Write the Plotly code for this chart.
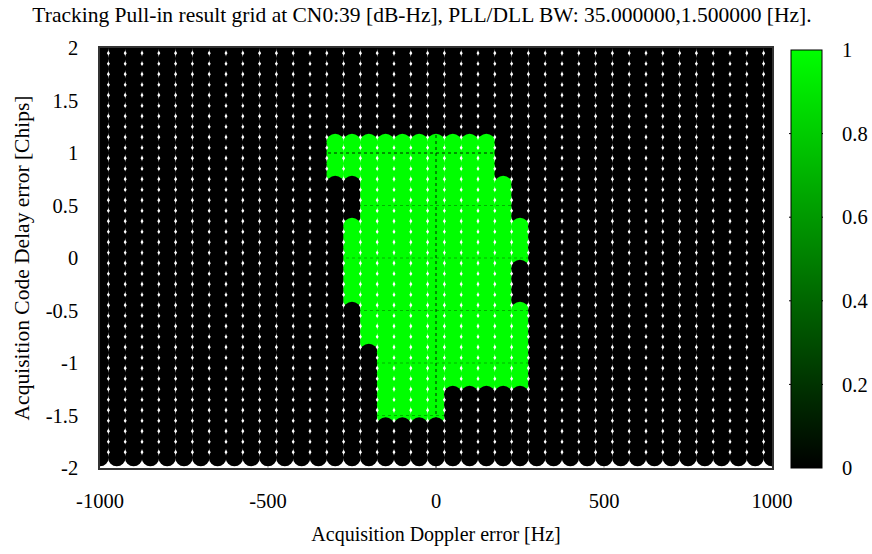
import plotly.graph_objects as go

# Search grid: Doppler columns and code-delay rows
doppler_hz = list(range(-1000, 1001, 50))
code_delay_chips = [round(2.0 - 0.1 * i, 1) for i in range(40)]  # 2.0 ... -1.9

# Grid cells where the tracking loops pulled in (value 1); all others are 0.
# Each entry: Doppler column and the inclusive code-delay span that locked.
lock_doppler_hz = [-300, -250, -250, -200, -150, -100, -50, 0, 50, 100, 150, 200, 250, 250]
lock_delay_lo = [0.8, 0.8, -0.4, -0.8, -1.5, -1.5, -1.5, -1.5, -1.2, -1.2, -1.2, -1.2, -1.2, 0.0]
lock_delay_hi = [1.1, 1.1, 0.3, 1.1, 1.1, 1.1, 1.1, 1.1, 1.1, 1.1, 1.1, 0.7, -0.5, 0.3]

x_ticks = [-1000, -500, 0, 500, 1000]
x_tick_text = ["-1000", "-500", "0", "500", "1000"]
y_ticks = [2, 1.5, 1, 0.5, 0, -0.5, -1, -1.5, -2]
y_tick_text = ["2", "1.5", "1", "0.5", "0", "-0.5", "-1", "-1.5", "-2"]
cb_ticks = [0, 0.2, 0.4, 0.6, 0.8, 1]
cb_tick_text = ["0", "0.2", "0.4", "0.6", "0.8", "1"]


def locked(f, d):
    for lf, lo, hi in zip(lock_doppler_hz, lock_delay_lo, lock_delay_hi):
        if lf == f and lo - 1e-9 <= d <= hi + 1e-9:
            return 1
    return 0


# rows are drawn top to bottom so lower dots overlap the row above
xs, ys, vals = [], [], []
for d in code_delay_chips:
    for f in doppler_hz:
        xs.append(f)
        ys.append(d)
        vals.append(locked(f, d))

FONT = "Liberation Serif"
PLOT_L, PLOT_R, PLOT_T, PLOT_B = 100, 772, 48, 468
PW, PH = PLOT_R - PLOT_L, PLOT_B - PLOT_T
CB_L, CB_R, CB_T, CB_B = 789, 823, 50, 468

fig = go.Figure()
fig.add_trace(go.Scatter(
    x=xs, y=ys, mode="markers",
    marker=dict(
        symbol="circle", size=17.5, color=vals,
        cmin=0, cmax=1,
        colorscale=[[0, "#000000"], [1, "#00ff00"]],
        line=dict(width=0),
        colorbar=dict(
            x=(CB_L + 2 - PLOT_L) / PW, xanchor="left", xpad=0,
            y=(PLOT_B - (CB_T + CB_B) / 2) / PH, yanchor="middle", ypad=0,
            len=(CB_B - CB_T) / PH, lenmode="fraction",
            thickness=CB_R - CB_L - 3, thicknessmode="pixels",
            outlinecolor="#000000", outlinewidth=1,
            tickvals=cb_ticks, ticktext=cb_tick_text,
            ticks="outside", ticklen=16, tickcolor="rgba(0,0,0,0)",
            tickfont=dict(family=FONT, size=20.5, color="#000000"),
        ),
    ),
    hoverinfo="skip", showlegend=False,
))

# dotted grid at the tick positions, drawn over the dots
def grid_trace(vx, hy, color):
    gx, gy = [], []
    for t in vx:
        gx += [t, t, None]
        gy += [-2, 2, None]
    for t in hy:
        gx += [-1000, 1000, None]
        gy += [t, t, None]
    return go.Scatter(x=gx, y=gy, mode="lines",
                      line=dict(color=color, width=1, dash="dot"),
                      hoverinfo="skip", showlegend=False)


fig.add_trace(grid_trace([-500, 500], [-1.5, -1, -0.5, 0, 0.5, 1.5], "rgba(0,0,0,0.3)"))
fig.add_trace(grid_trace([0], [1], "rgba(0,0,0,0.85)"))

# small inward tick marks on both edges of the colour bar
shapes = []
for v in cb_ticks[1:-1]:
    yp = (PLOT_B - (CB_B - v * (CB_B - CB_T))) / PH
    for x0, x1 in [(CB_L, CB_L + 6), (CB_R - 6, CB_R)]:
        shapes.append(dict(type="line", xref="paper", yref="paper",
                           x0=(x0 - PLOT_L) / PW, x1=(x1 - PLOT_L) / PW,
                           y0=yp, y1=yp, line=dict(color="#000000", width=1)))

fig.update_layout(
    width=872, height=554,
    margin=dict(l=PLOT_L, r=872 - PLOT_R, t=PLOT_T, b=554 - PLOT_B, autoexpand=False),
    paper_bgcolor="#ffffff", plot_bgcolor="#ffffff",
    font=dict(family=FONT, size=20, color="#000000"),
    shapes=shapes,
    title=dict(
        text="Tracking Pull-in result grid at CN0:39 [dB-Hz], PLL/DLL BW: 35.000000,1.500000 [Hz].",
        x=(422 - PLOT_L) / PW, xref="paper", xanchor="center",
        y=1 - 14 / 554, yref="container", yanchor="middle",
        font=dict(family=FONT, size=21.5, color="#000000"),
    ),
    xaxis=dict(
        range=[-1000, 1000], tickvals=x_ticks, ticktext=x_tick_text,
        showgrid=False, zeroline=False,
        showline=True, linecolor="#333333", linewidth=1.5, mirror=True,
        ticks="", layer="below traces", ticklabelstandoff=14,
        title=dict(text="Acquisition Doppler error [Hz]", standoff=16,
                   font=dict(family=FONT, size=20)),
        tickfont=dict(family=FONT, size=20.5),
    ),
    yaxis=dict(
        range=[-2, 2], tickvals=y_ticks, ticktext=y_tick_text,
        showgrid=False, zeroline=False,
        showline=True, linecolor="#333333", linewidth=1.5, mirror=True,
        ticks="", layer="below traces", ticklabelstandoff=16,
        title=dict(text="Acquisition Code Delay error [Chips]", standoff=10,
                   font=dict(family=FONT, size=21.5)),
        tickfont=dict(family=FONT, size=20.5),
    ),
)

fig.write_html("out.html")
